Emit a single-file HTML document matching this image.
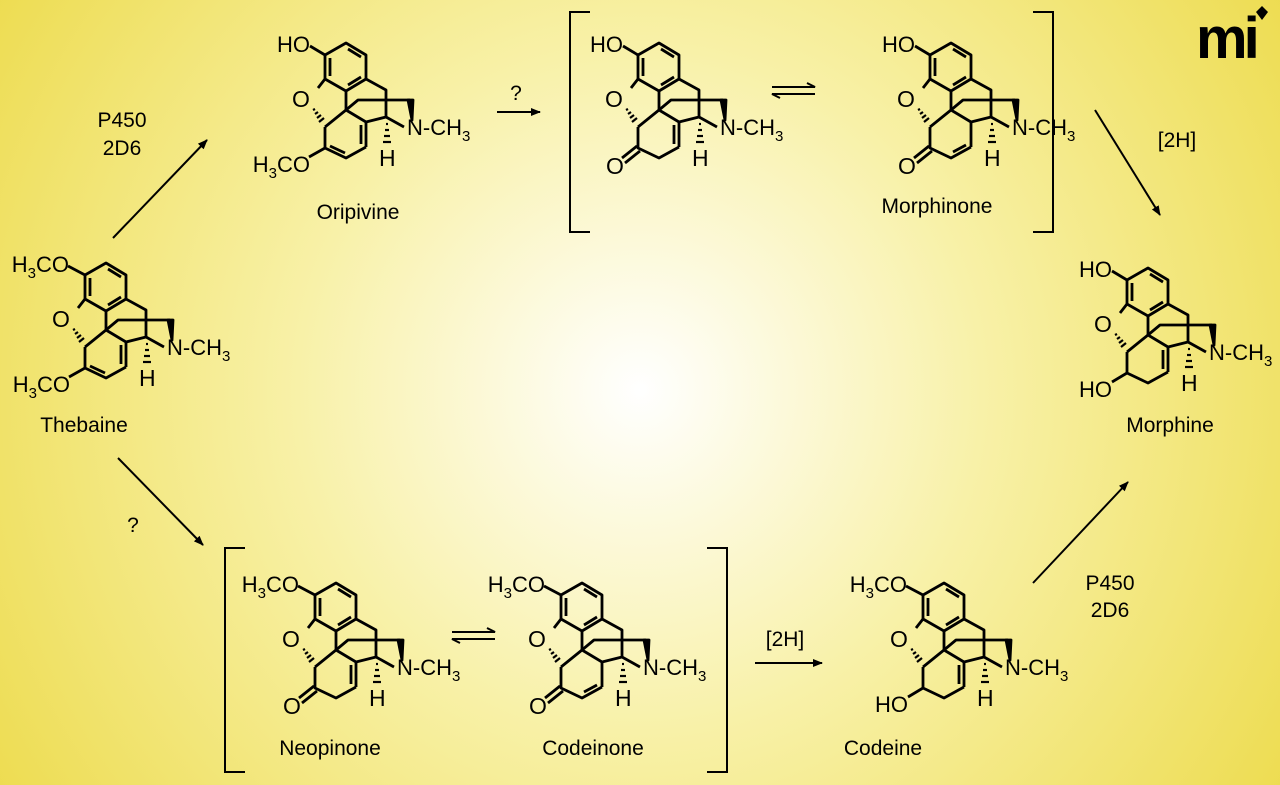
<!DOCTYPE html>
<html><head><meta charset="utf-8"><style>
html,body{margin:0;padding:0;}
body{width:1280px;height:785px;overflow:hidden;}
svg{display:block;font-family:"Liberation Sans",Arial,sans-serif;}
</style></head><body>
<svg width="1280" height="785" viewBox="0 0 1280 785">
<defs>
<radialGradient id="bg" cx="640" cy="390" r="760" gradientUnits="userSpaceOnUse">
<stop offset="0" stop-color="#ffffff"/>
<stop offset="0.45" stop-color="#f8f1a8"/>
<stop offset="1" stop-color="#eddc50"/>
</radialGradient>
<g id="sk" fill="none" stroke="#000" stroke-width="2.8" stroke-linejoin="round">
<polygon points="106,263 126,275 126,299 106,311 85,299 85,275"/>
<line x1="108" y1="269" x2="121" y2="277"/>
<line x1="121" y1="297" x2="108" y2="305"/>
<line x1="90" y1="296" x2="90" y2="278"/>
<line x1="85" y1="299" x2="78" y2="308"/>
<line x1="106" y1="311" x2="106" y2="330"/>
<polyline points="85,347 106,330 126,342"/>
<line x1="126" y1="342" x2="126" y2="367"/>
<polyline points="126,367 106,378 85,368 85,347"/>
<polyline points="126,299 146,310 146,337 126,342"/>
<line x1="146" y1="337" x2="164" y2="347"/>
<polyline points="106,330 118,320 170,320"/>
<polygon points="168,320 173,320 172,340" fill="#000"/>
</g>
<g id="hash" stroke="#000" stroke-width="2.2">
<line x1="73" y1="330" x2="75" y2="329"/>
<line x1="75" y1="334" x2="78" y2="332"/>
<line x1="77" y1="338" x2="81" y2="335"/>
<line x1="79" y1="342" x2="84" y2="338"/>
<line x1="146" y1="344" x2="148" y2="344"/>
<line x1="145" y1="350" x2="149" y2="350"/>
<line x1="144" y1="356" x2="150" y2="356"/>
<line x1="143" y1="362" x2="151" y2="362"/>
</g>
<g id="common">
<use href="#sk"/><use href="#hash"/>
<text x="52" y="327" font-size="23">O</text>
<text x="139" y="386" font-size="23">H</text>
<text x="167" y="355" font-size="22">N-CH<tspan font-size="15" dy="6">3</tspan></text>
</g>
<g id="d814"><line x1="121" y1="345" x2="121" y2="364" stroke="#000" stroke-width="2.8"/></g>
<g id="d67"><line x1="90" y1="366" x2="105" y2="373" stroke="#000" stroke-width="2.8"/></g>
<g id="d78"><line x1="108" y1="372" x2="121" y2="365" stroke="#000" stroke-width="2.8"/></g>
<g id="ome6"><line x1="85" y1="368" x2="69" y2="377" stroke="#000" stroke-width="2.8"/><text x="70" y="392" font-size="22" text-anchor="end">H<tspan font-size="15" dy="6">3</tspan><tspan dy="-6">CO</tspan></text></g>
<g id="oh6"><line x1="85" y1="368" x2="70" y2="377" stroke="#000" stroke-width="2.8"/><text x="70" y="392" font-size="22" text-anchor="end">HO</text></g>
<g id="ket"><g stroke="#000" stroke-width="2.8"><line x1="84" y1="366" x2="69" y2="378"/><line x1="87" y1="371" x2="72" y2="383"/></g><text x="53" y="394" font-size="23">O</text></g>
<g id="ome3"><line x1="85" y1="275" x2="68" y2="266" stroke="#000" stroke-width="2.8"/><text x="69" y="272" font-size="22" text-anchor="end">H<tspan font-size="15" dy="6">3</tspan><tspan dy="-6">CO</tspan></text></g>
<g id="oh3"><line x1="85" y1="275" x2="70" y2="266" stroke="#000" stroke-width="2.8"/><text x="70" y="272" font-size="22" text-anchor="end">HO</text></g>
<marker id="ah" markerWidth="10" markerHeight="8" refX="9" refY="4" orient="auto" markerUnits="userSpaceOnUse"><path d="M0,0 L10,4 L0,8 Z" fill="#000"/></marker>
</defs>
<rect width="1280" height="785" fill="url(#bg)"/>

<g><use href="#common"/><use href="#ome3"/><use href="#ome6"/><use href="#d67"/><use href="#d814"/></g>
<g transform="translate(240,-220)"><use href="#common"/><use href="#oh3"/><use href="#ome6"/><use href="#d67"/><use href="#d814"/></g>
<g transform="translate(553,-220)"><use href="#common"/><use href="#oh3"/><use href="#ket"/><use href="#d814"/></g>
<g transform="translate(845,-220)"><use href="#common"/><use href="#oh3"/><use href="#ket"/><use href="#d78"/></g>
<g transform="translate(1042,5)"><use href="#common"/><use href="#oh3"/><use href="#oh6"/><use href="#d814"/></g>
<g transform="translate(230,320)"><use href="#common"/><use href="#ome3"/><use href="#ket"/><use href="#d814"/></g>
<g transform="translate(476,320)"><use href="#common"/><use href="#ome3"/><use href="#ket"/><use href="#d78"/></g>
<g transform="translate(838,320)"><use href="#common"/><use href="#ome3"/><use href="#oh6"/><use href="#d814"/></g>

<g font-size="21" text-anchor="middle">
<text x="84" y="432">Thebaine</text>
<text x="358" y="219">Oripivine</text>
<text x="937" y="213">Morphinone</text>
<text x="1170" y="432">Morphine</text>
<text x="330" y="755">Neopinone</text>
<text x="593" y="755">Codeinone</text>
<text x="883" y="755">Codeine</text>
<text x="122" y="127">P450</text><text x="122" y="155">2D6</text>
<text x="1110" y="590">P450</text><text x="1110" y="617">2D6</text>
<text x="516" y="100">?</text>
<text x="133" y="532">?</text>
<text x="1177" y="147">[2H]</text>
<text x="785" y="646">[2H]</text>
</g>

<g stroke="#000" stroke-width="2" fill="none">
<polyline points="590,12 570,12 570,232 590,232"/>
<polyline points="1033,12 1053,12 1053,232 1033,232"/>
<polyline points="245,548 225,548 225,772 245,772"/>
<polyline points="707,548 727,548 727,772 707,772"/>
<line x1="113" y1="238" x2="207" y2="140" marker-end="url(#ah)"/>
<line x1="497" y1="112" x2="540" y2="112" marker-end="url(#ah)"/>
<line x1="1095" y1="110" x2="1160" y2="215" marker-end="url(#ah)"/>
<line x1="118" y1="458" x2="203" y2="545" marker-end="url(#ah)"/>
<line x1="755" y1="663" x2="822" y2="663" marker-end="url(#ah)"/>
<line x1="1033" y1="583" x2="1128" y2="482" marker-end="url(#ah)"/>
<path d="M772,87 L815,87 L807,83"/><path d="M815,94 L772,94 L780,98"/>
<path d="M452,632 L495,632 L487,628"/><path d="M495,639 L452,639 L460,643"/>
</g>

<text x="1196" y="58" font-size="58" font-weight="bold" letter-spacing="-4">mi</text>
<path d="M1256,12 l6,-6 l6,6 l-6,8 z" fill="#000"/>
</svg>
</body></html>
